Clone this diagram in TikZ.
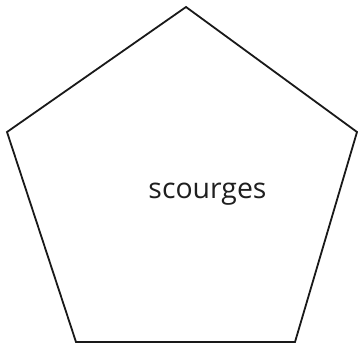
\documentclass[tikz,border=0pt]{standalone}
\usepackage{fontspec}
\setmainfont{Open Sans}
\usetikzlibrary{positioning}

\begin{document}
\begin{tikzpicture}[
  x=1pt, y=1pt,
  edge/.style={draw=black!90, line width=1.8pt, line join=miter},
  lbl/.style={font=\fontsize{28.4}{32}\selectfont, text=black!88,
              inner sep=0pt, anchor=base},
]
\useasboundingbox (0,0) rectangle (358,346);
\coordinate (top) at (186,339);
\coordinate (left) at (7,214);
\coordinate (right) at (357,214);
\coordinate (bl) at (76,4);
\coordinate (br) at (295,4);
\draw[edge] (top) -- (right) -- (br) -- (bl) -- (left) -- cycle;
\node[lbl] (word) at (207.5,148) {scourges};
\end{tikzpicture}
\end{document}
